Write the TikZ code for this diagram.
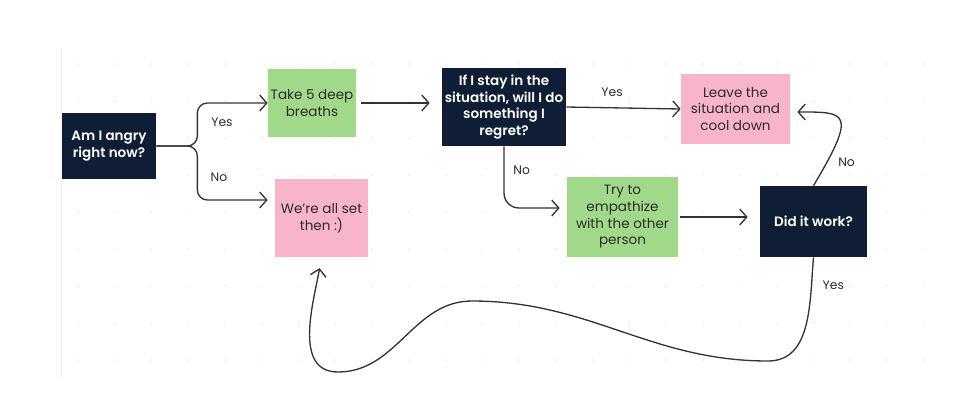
\documentclass[tikz,border=0pt]{standalone}
\usepackage{fontspec}
\setmainfont{Poppins}[BoldFont={Poppins SemiBold}]
\usetikzlibrary{arrows.meta}
\definecolor{navy}{HTML}{0F1E34}
\definecolor{mint}{HTML}{A1D98B}
\definecolor{blush}{HTML}{F8B5C9}
\definecolor{ink}{HTML}{2B2B2B}
\definecolor{wire}{HTML}{333333}
\begin{document}
\begin{tikzpicture}[x=0.02cm,y=0.02cm,
    ask/.style={fill=navy,text=white,font=\fontsize{7.7}{9.5}\selectfont\bfseries,align=center,inner sep=0pt},
    act/.style={fill=mint,text=ink,font=\fontsize{7.7}{9.5}\selectfont,align=center,inner sep=0pt},
    done/.style={fill=blush,text=ink,font=\fontsize{7.7}{9.5}\selectfont,align=center,inner sep=0pt},
    flow/.style={draw=wire,line width=0.75pt,-{Straight Barb[length=4pt,width=9pt]}},
    lbl/.style={text=ink,font=\fontsize{7}{8}\selectfont,inner sep=1pt}]
    \useasboundingbox (0,0) rectangle (960,414);
    % faint board
    \draw[gray!10] (61,36) -- (61,366);
    \foreach \i in {0,...,23}
        \foreach \j in {0,...,8}
            \fill[gray!14] (78+\i*36.75,54+\j*37) circle (1);
    % boxes
    \node[ask,minimum width=1.88cm,minimum height=1.32cm] (angry) at (109,268) {Am I angry\\right now?};
    \node[act,minimum width=1.76cm,minimum height=1.36cm] (breaths) at (312,311) {Take 5 deep\\breaths};
    \node[done,minimum width=1.86cm,minimum height=1.56cm] (allset) at (321.5,196) {We're all set\\then :)};
    \node[ask,minimum width=2.48cm,minimum height=1.56cm] (stay) at (504,307) {If I stay in the\\situation, will I do\\something I\\regret?};
    \node[done,minimum width=2.18cm,minimum height=1.4cm] (leave) at (735.5,305) {Leave the\\situation and\\cool down};
    \node[act,minimum width=2.22cm,minimum height=1.6cm] (empath) at (622.5,197) {Try to\\empathize\\with the other\\person};
    \node[ask,minimum width=2.14cm,minimum height=1.42cm] (work) at (813.5,192.5) {Did it work?};
    % arrows
    \draw[flow,rounded corners=0.2cm] (angry.east) -- ++(41,0) |- (breaths.west);
    \draw[flow,rounded corners=0.2cm] (angry.east) -- ++(41,0) |- ([xshift=-0.14cm,yshift=0.36cm]allset.west);
    \node[lbl] at (222,292) {Yes};
    \node[lbl] at (219,237) {No};
    \draw[flow,shorten <=0.1cm,shorten >=0.24cm] (breaths.east) -- (breaths.east -| stay.west);
    \draw[flow] (stay.east) -- node[lbl,pos=0.4,above=5pt] {Yes} (leave.west);
    \draw[flow,rounded corners=0.3cm] (stay.south) |- node[lbl,pos=0.19,right=4pt] {No} ([xshift=-0.14cm,yshift=0.18cm]empath.west);
    \draw[flow,shorten <=0.04cm,shorten >=0.24cm] (empath.east) -- (empath.east -| work.west);
    \draw[flow] (work.north) .. controls (858,303) and (846,302) .. node[lbl,pos=0.12,right=5pt] {No} ([xshift=0.14cm,yshift=-0.06cm]leave.east);
    \draw[flow,shorten >=0.22cm] (work.south) to[out=-95,in=0] node[lbl,pos=0.2,right=5pt] {Yes} (768,53)
        to[out=180,in=0] (472,113) to[out=180,in=0] (338,42) to[out=180,in=-100] (allset.south);
\end{tikzpicture}
\end{document}
